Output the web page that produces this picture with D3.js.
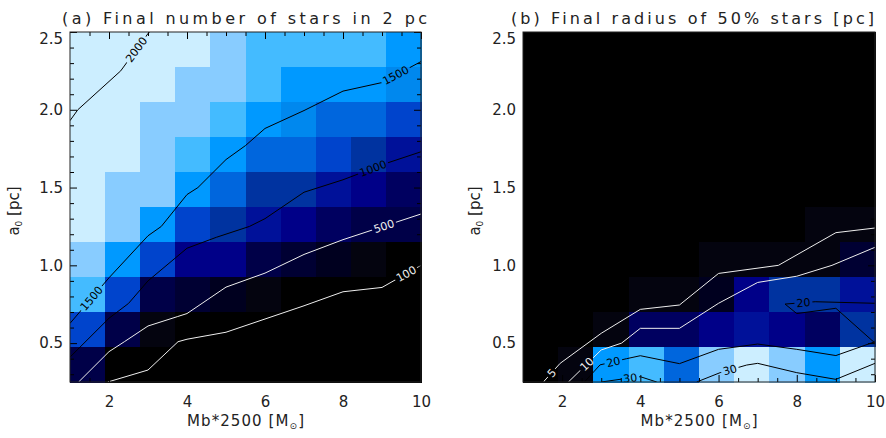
<!DOCTYPE html>
<html>
<head>
<meta charset="utf-8">
<script src="https://cdn.jsdelivr.net/npm/d3@7"></script>
<style>
  body { margin: 0; background: #fff; }
  text { font-family: "DejaVu Sans", sans-serif; fill: #222; }
</style>
</head>
<body>
<svg id="chart" width="886" height="438"></svg>
<script>
// axis ranges and ticks
const massRange = [1, 10];
const a0Range = [0.25, 2.5];
const massTicks = [2, 4, 6, 8, 10];
const a0Ticks = [0.5, 1.0, 1.5, 2.0, 2.5];

// colour table (index = level in the grids below)
const palette = [
  "#000000", "#04040f", "#00001f", "#000033", "#000048", "#000060",
  "#000088", "#001199", "#0033a0", "#0044cc", "#0066dd", "#0088ee",
  "#0099ff", "#44bbff", "#88ccff", "#cceeff"
];

// cell levels, rows from a0 = 2.5 (top) down to a0 = 0.25, columns Mb = 1..10
const starsLevel = [
  [15, 15, 15, 15, 14, 13, 13, 13, 13, 12],
  [15, 15, 15, 14, 14, 13, 12, 12, 12, 11],
  [15, 15, 14, 14, 13, 12, 11, 10, 10, 9],
  [15, 15, 14, 13, 12, 10, 10, 9, 8, 7],
  [15, 14, 14, 12, 10, 8, 8, 7, 6, 5],
  [15, 14, 12, 9, 8, 7, 6, 5, 4, 4],
  [14, 12, 9, 6, 6, 4, 3, 2, 1, 0],
  [13, 9, 4, 3, 2, 1, 0, 0, 0, 0],
  [9, 4, 1, 0, 0, 0, 0, 0, 0, 0],
  [4, 0, 0, 0, 0, 0, 0, 0, 0, 0]
];
const radiusLevel = [
  [0, 0, 0, 0, 0, 0, 0, 0, 0, 0],
  [0, 0, 0, 0, 0, 0, 0, 0, 0, 0],
  [0, 0, 0, 0, 0, 0, 0, 0, 0, 0],
  [0, 0, 0, 0, 0, 0, 0, 0, 0, 0],
  [0, 0, 0, 0, 0, 0, 0, 0, 0, 0],
  [0, 0, 0, 0, 0, 0, 0, 0, 1, 1],
  [0, 0, 0, 0, 0, 1, 1, 1, 1, 3],
  [0, 0, 0, 1, 1, 2, 6, 8, 8, 7],
  [0, 0, 1, 5, 5, 6, 7, 6, 5, 8],
  [0, 1, 12, 13, 10, 14, 15, 14, 12, 15]
];

// contour lines, points are [Mb, a0]
const stars100 = [[1.97, 0.25], [3.0, 0.327], [3.77, 0.509], [4.0, 0.525], [5.0, 0.57], [7.0, 0.74], [8.0, 0.83], [9.0, 0.858], [10, 1.0]];
const stars500 = [[1.22, 0.25], [2.0, 0.445], [2.4, 0.51], [3.0, 0.61], [3.75, 0.67], [4.0, 0.69], [5.0, 0.86], [6.0, 0.95], [7.0, 1.07], [8.0, 1.165], [10, 1.33]];
const stars1000 = [[1.0, 0.41], [2.0, 0.66], [2.5, 0.755], [3.0, 0.9], [4.0, 1.11], [4.75, 1.18], [5.6, 1.25], [6.0, 1.30], [7.0, 1.47], [8.0, 1.55], [9.1, 1.655], [10, 1.73]];
const stars1500 = [[1.0, 0.627], [2.0, 0.92], [3.0, 1.19], [3.34, 1.25], [4.0, 1.455], [4.28, 1.5], [5.0, 1.68], [5.5, 1.77], [6.0, 1.88], [7.0, 1.995], [8.0, 2.12], [9.0, 2.175], [10, 2.31]];
const stars2000 = [[1.0, 1.93], [1.2, 2.0], [2.3, 2.25], [3.0, 2.49], [3.04, 2.5]];

const radius5 = [[1.52, 0.25], [1.95, 0.37], [3.0, 0.563], [4.0, 0.717], [5.0, 0.745], [6.0, 0.948], [7.53, 1.0], [9.0, 1.21], [10, 1.24]];
const radius10 = [[2.16, 0.25], [3.0, 0.456], [3.52, 0.5], [4.0, 0.595], [5.0, 0.595], [6.0, 0.756], [7.0, 0.89], [8.0, 0.93], [8.9, 1.0], [10, 1.116]];
const radius20a = [[2.57, 0.25], [2.97, 0.36], [3.65, 0.40], [4.0, 0.419], [5.0, 0.368], [6.0, 0.46], [7.0, 0.494], [8.0, 0.46], [9.0, 0.42], [10, 0.509]];
const radius20b = [[10, 0.756], [8.47, 0.766], [7.70, 0.751], [8.0, 0.69], [9.0, 0.724], [10, 0.5]];
const radius30a = [[3.0, 0.25], [3.48, 0.267], [4.0, 0.284], [4.42, 0.25]];
const radius30b = [[5.44, 0.25], [6.04, 0.31], [6.72, 0.359], [7.0, 0.37], [8.0, 0.31], [9.0, 0.267], [10, 0.37]];

// level, line, Mb values where the level is written on the line
const starsContours = [
  [100, stars100, [9.62]],
  [500, stars500, [9.05]],
  [1000, stars1000, [8.77]],
  [1500, stars1500, [1.55, 9.35]],
  [2000, stars2000, [2.7]]
];
const radiusContours = [
  [5, radius5, [1.73]],
  [10, radius10, [2.63]],
  [20, radius20a, [3.31]],
  [20, radius20b, [8.17]],
  [30, radius30a, [3.74]],
  [30, radius30b, [6.29]]
];

const svg = d3.select("#chart");
svg.append("rect").attr("width", 886).attr("height", 438).attr("fill", "#fff");

const plotTop = 32, H = 350;

function panel(p) {
  const W = p.width;
  const g = svg.append("g").attr("transform", `translate(${p.left},${plotTop})`);
  const x = d3.scaleLinear().domain(massRange).range([0, W]);
  const y = d3.scaleLinear().domain(a0Range).range([H, 0]);
  const col = d3.scaleBand().domain(d3.range(10)).range([0, W]);
  const row = d3.scaleBand().domain(d3.range(10)).range([0, H]);

  // image cells
  const cells = [];
  p.levels.forEach((r, i) => r.forEach((v, j) => cells.push({ i, j, v })));
  g.append("g").selectAll("rect").data(cells).enter().append("rect")
    .attr("x", d => col(d.j))
    .attr("y", d => row(d.i))
    .attr("width", col.bandwidth() + 0.6)
    .attr("height", row.bandwidth() + 0.6)
    .attr("fill", d => palette[d.v])
    .attr("shape-rendering", "crispEdges");

  const id = p.id;
  const defs = svg.append("defs");
  defs.append("clipPath").attr("id", "clip" + id)
    .append("rect").attr("width", W).attr("height", H);
  const mask = defs.append("mask").attr("id", "mask" + id)
    .attr("maskUnits", "userSpaceOnUse")
    .attr("x", -10).attr("y", -10).attr("width", W + 20).attr("height", H + 20);
  mask.append("rect").attr("x", -10).attr("y", -10)
    .attr("width", W + 20).attr("height", H + 20).attr("fill", "#fff");

  const lines = g.append("g").attr("clip-path", `url(#clip${id})`)
    .append("g").attr("mask", `url(#mask${id})`);
  const labels = g.append("g").attr("clip-path", `url(#clip${id})`);
  const line = d3.line().x(d => x(d[0])).y(d => y(d[1]));

  p.contours.forEach(([level, pts, at]) => {
    const colour = p.lineColour(level);
    lines.append("path").attr("d", line(pts))
      .attr("fill", "none").attr("stroke", colour).attr("stroke-width", 1);
    at.forEach(m => {
      let k = 0;
      for (; k < pts.length - 2; k++) {
        const a = pts[k][0], b = pts[k + 1][0];
        if ((m - a) * (m - b) <= 0) break;
      }
      const p0 = pts[k], p1 = pts[k + 1];
      const t = (m - p0[0]) / (p1[0] - p0[0]);
      const px0 = x(p0[0]), py0 = y(p0[1]), px1 = x(p1[0]), py1 = y(p1[1]);
      const px = px0 + t * (px1 - px0), py = py0 + t * (py1 - py0);
      let ang = Math.atan2(py1 - py0, px1 - px0) * 180 / Math.PI;
      if (ang > 90) ang -= 180;
      if (ang < -90) ang += 180;
      const tr = `translate(${px},${py}) rotate(${ang})`;
      const txt = labels.append("text").attr("transform", tr)
        .attr("text-anchor", "middle").attr("dy", "0.36em")
        .attr("font-size", 11).style("fill", colour).text(level);
      const w = txt.node().getComputedTextLength();
      mask.append("rect").attr("transform", tr)
        .attr("x", -w / 2 - 2).attr("y", -6).attr("width", w + 4).attr("height", 12)
        .attr("fill", "#000");
    });
  });

  // axes
  const massMinor = d3.range(1.5, 10, 0.5).filter(v => v % 2 !== 0);
  const a0Minor = d3.range(3, 25, 1).map(v => v / 10).filter(v => Math.round(v * 10) % 5 !== 0);
  const axes = g.append("g");
  const style = s => {
    s.select(".domain").remove();
    s.attr("font-size", 15).attr("font-family", '"DejaVu Sans", sans-serif');
    s.selectAll("line").attr("stroke", "#000");
  };
  axes.append("g").attr("transform", `translate(0,${H})`)
    .call(d3.axisBottom(x).tickValues(massTicks).tickSize(-7).tickPadding(14).tickFormat(d3.format("d"))).call(style);
  axes.append("g").attr("transform", `translate(0,${H})`)
    .call(d3.axisBottom(x).tickValues(massMinor).tickSize(-4).tickFormat("")).call(style);
  axes.append("g")
    .call(d3.axisTop(x).tickValues(massTicks).tickSize(-7).tickFormat("")).call(style);
  axes.append("g")
    .call(d3.axisTop(x).tickValues(massMinor).tickSize(-4).tickFormat("")).call(style);
  const yl = axes.append("g")
    .call(d3.axisLeft(y).tickValues(a0Ticks).tickSize(-7).tickPadding(7).tickFormat(d3.format(".1f"))).call(style);
  yl.selectAll(".tick text").filter(d => d === 2.5).attr("y", 6.5);
  axes.append("g")
    .call(d3.axisLeft(y).tickValues(a0Minor).tickSize(-4).tickFormat("")).call(style);
  axes.append("g").attr("transform", `translate(${W},0)`)
    .call(d3.axisRight(y).tickValues(a0Ticks).tickSize(-7).tickFormat("")).call(style);
  axes.append("g").attr("transform", `translate(${W},0)`)
    .call(d3.axisRight(y).tickValues(a0Minor).tickSize(-4).tickFormat("")).call(style);
  axes.selectAll(".tick text").style("fill", "#222");

  g.append("rect").attr("width", W).attr("height", H)
    .attr("fill", "none").attr("stroke", "#222").attr("stroke-width", 1);

  // titles
  svg.append("text").attr("x", p.titleX).attr("y", 24)
    .attr("font-size", 16).attr("textLength", p.titleLen).attr("lengthAdjust", "spacing")
    .text(p.title);

  const xt = svg.append("text").attr("x", p.left + W / 2).attr("y", 426)
    .attr("text-anchor", "middle").attr("font-size", 15)
    .attr("textLength", 117).attr("lengthAdjust", "spacing");
  xt.append("tspan").text("Mb*2500 [M");
  xt.append("tspan").attr("font-size", 9).attr("dy", 3).text("\u2299");
  xt.append("tspan").attr("dy", -3).text("]");

  const yt = svg.append("text")
    .attr("transform", `translate(${p.yTitleX},${plotTop + H / 2 + 4}) rotate(-90)`)
    .attr("text-anchor", "middle").attr("font-size", 15);
  yt.append("tspan").text("a");
  yt.append("tspan").attr("font-size", 9).attr("dy", 3).text("0");
  yt.append("tspan").attr("dy", -3).text(" [pc]");
}

panel({
  id: "a", left: 70, width: 351, levels: starsLevel, contours: starsContours,
  lineColour: v => v >= 1000 ? "#000" : "#eee",
  title: "(a) Final number of stars in 2 pc", titleX: 62, titleLen: 365, yTitleX: 19
});
panel({
  id: "b", left: 523, width: 352, levels: radiusLevel, contours: radiusContours,
  lineColour: v => v >= 20 ? "#000" : "#eee",
  title: "(b) Final radius of 50% stars [pc]", titleX: 511, titleLen: 363, yTitleX: 480
});
</script>
</body>
</html>
